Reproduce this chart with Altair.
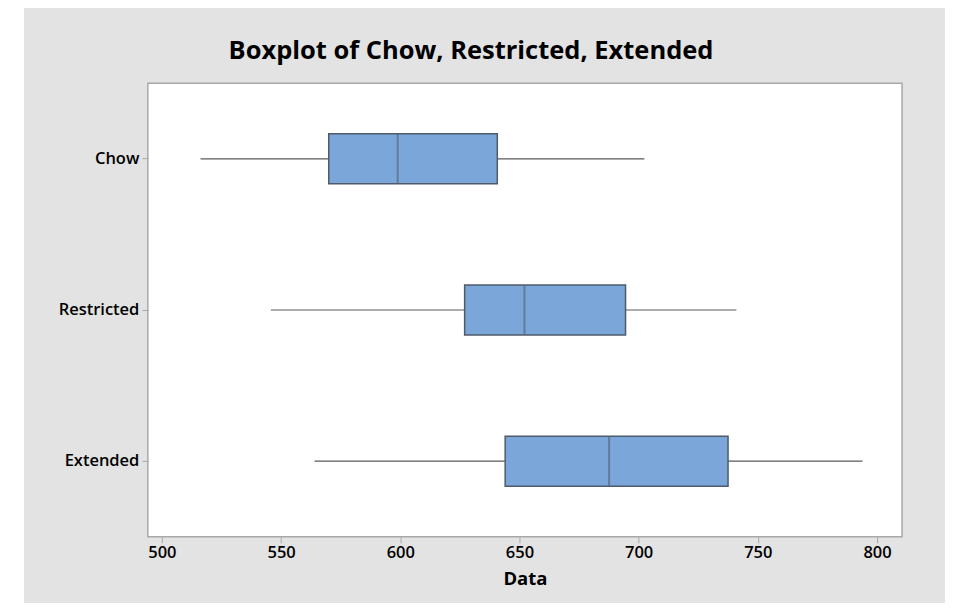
import altair as alt
import pandas as pd

categories = ["Chow", "Restricted", "Extended"]
lower_whisker = [516.2, 545.7, 564.0]
q1 = [570.0, 627.0, 644.0]
median = [598.9, 652.1, 687.6]
q3 = [640.7, 694.5, 737.5]
upper_whisker = [702.4, 741.0, 793.9]
x_ticks = [500, 550, 600, 650, 700, 750, 800]
chart_title = "Boxplot of Chow, Restricted, Extended"

df = pd.DataFrame({
    "group": categories,
    "lw": lower_whisker,
    "q1": q1,
    "med": median,
    "q3": q3,
    "uw": upper_whisker,
})

W, H = 755, 454
FONT = "Open Sans"
GRAY_BG = "#e3e3e3"
BORDER = "#a8a8a8"

xscale = alt.Scale(domain=[494.1, 810.5], nice=False, zero=False)
yscale = alt.Scale(domain=categories, paddingInner=0, paddingOuter=0)

xaxis = alt.Axis(values=x_ticks, title="Data", domain=False, grid=False,
                 tickColor=BORDER, tickSize=6, tickWidth=1,
                 labelFontSize=16.5, labelFont=FONT, labelColor="black",
                 labelFontWeight=600, labelPadding=2,
                 titleFontSize=18.5, titleFontWeight="bold", titleFont=FONT,
                 titleColor="black", titlePadding=8)
yaxis = alt.Axis(title=None, domain=False, grid=False, tickColor=BORDER,
                 tickSize=6, tickWidth=1,
                 labelFontSize=16.5, labelFontWeight=600, labelFont=FONT,
                 labelColor="black", labelPadding=3)

Y = alt.Y("group:N", scale=yscale, axis=yaxis, sort=categories)

one = alt.Data(values=[{"k": 1}])

# thin white strip at the far left, outside the grey frame of the reference
strip = alt.Chart(one).mark_rect(fill="white", strokeWidth=0).encode(
    x=alt.value(-141), x2=alt.value(-124),
    y=alt.value(-76), y2=alt.value(H + 70),
)
title = alt.Chart(one).mark_text(font=FONT, fontSize=25.5, fontWeight="bold",
                                 color="black", align="center", baseline="middle").encode(
    x=alt.value(W / 2 - 54), y=alt.value(-32), text=alt.value(chart_title),
)

base = alt.Chart(df)

whiskers = base.mark_rule(color="#5a5a5a", strokeWidth=1.2).encode(
    x=alt.X("lw:Q", scale=xscale, axis=xaxis),
    x2="uw:Q",
    y=Y,
)
boxes = base.mark_bar(size=50, fill="#7ba6da", stroke="#4f5b68", strokeWidth=1.5).encode(
    x=alt.X("q1:Q", scale=xscale, axis=xaxis),
    x2="q3:Q",
    y=Y,
)
medians = base.mark_tick(size=50, thickness=2, color="#56697e", orient="vertical").encode(
    x=alt.X("med:Q", scale=xscale, axis=xaxis),
    y=Y,
)

chart = alt.layer(whiskers, boxes, medians, strip, title).properties(
    width=W, height=H,
    padding={"left": 140, "top": 75, "right": 43, "bottom": 66},
    autosize=alt.AutoSizeParams(type="none"),
    background=GRAY_BG,
).configure_view(stroke=BORDER, strokeWidth=1.5, fill="white")

chart.save("out.html", embed_options={"renderer": "svg", "actions": False})
